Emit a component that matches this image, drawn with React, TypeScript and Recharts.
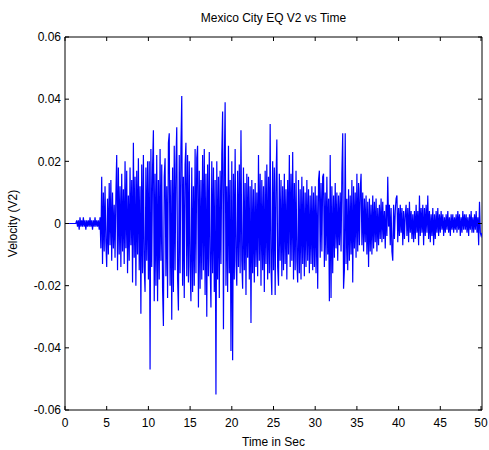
import { LineChart, Line, XAxis, YAxis, ReferenceLine } from "recharts";

// velocity samples in units of 0.001, one every 0.1 s
const sampleStep = 0.1;

const vel0to10 = [
  0, 0, 0, 0, 0, 0, 0, 0, 0, 0,
  0, 0, 0, 0, 1, -1, 1, -2, 2, -1,
  1, -1, 2, -1, 1, -2, 1, -1, 1, -1,
  2, -1, 1, -2, 1, -1, 2, -1, 1, -1,
  1, -2, 2, -8, 15, -13, 10, -9, 12, -6,
  -14, 8, -10, 13, -7, 14, -12, 10, -8, 6,
  -11, 9, 22, -15, 18, -10, 12, -14, 16, -9,
  11, -13, 20, -8, 17, -16, 9, -12, 18, -7,
  14, -19, 26, -11, 15, -20, 17, -10, 21, -15,
  12, -29, 19, -16, 22, -14, -22, 18, -12, 20,
];

const vel10to20 = [
  -18, 20, -47, 24, -14, 18, 30, -25, 16, -20,
  22, -25, 14, -18, 24, -12, 19, -21, -33, 15,
  21, -17, 12, -24, 26, 29, -20, 14, -31, 18,
  -22, 25, -15, 19, 31, -18, -28, 22, -16, 24,
  41, -20, 15, -24, 19, 26, -17, 22, -19, 20,
  -14, -25, 18, -22, 12, -20, 24, -16, 21, 25,
  -27, 17, -21, 14, -18, 22, -15, 24, -23, 16,
  -30, 19, -17, 23, -12, -27, 20, -16, 18, -22,
  14, -55, 20, -18, 15, -24, 17, -13, 22, 36,
  -34, 18, 39, -20, 12, -22, 25, -16, 14, -41,
];

const vel20to30 = [
  20, -44, 16, -18, 24, -12, -20, 17, -14, 19,
  -16, 30, -12, -21, 18, -15, 13, -23, 16, -11,
  15, -18, 12, -32, 14, -16, 11, -19, 13, -14,
  10, -17, 22, -12, 16, -20, 14, -15, 12, -22,
  17, -13, 19, -18, 15, -16, 32, -14, -23, 20,
  -15, 18, -23, 13, 27, -14, -20, 16, -12, 14,
  -17, 12, -15, 16, -13, 11, -18, 14, -10, 22,
  -14, 16, -12, 23, -18, 13, -15, 17, -12, -19,
  14, -16, 11, -18, 15, -13, 12, -17, 10, -14,
  14, -12, 11, -16, 9, -13, 12, -15, 10, -14,
];

const vel30to40 = [
  12, -16, 9, -21, 14, 17, -11, 13, -9, 15,
  16, -14, 10, -12, 15, -10, 8, -25, 22, -24,
  12, -16, 9, -11, 13, -8, 10, -12, 9, -7,
  10, -9, 16, 29, -21, -15, 29, -13, 8, -15,
  11, -12, 9, -10, 14, -19, 12, -8, 10, -11,
  16, -9, 13, -7, 11, 16, -7, 10, -9, 8,
  -6, 9, -10, 7, -14, 8, -9, 6, -10, 9,
  -8, 7, -6, 8, -9, 5, -7, 6, -5, 8,
  -6, 7, -5, 4, -8, 6, -4, 15, -1, 6,
  -7, 5, -9, -12, 6, -5, 4, 8, 9, -6,
];

const vel40to50 = [
  5, -4, 6, -3, 5, -7, 4, -5, 3, 6,
  -4, 5, -6, 7, -3, 4, -5, 3, -6, 4,
  -5, 6, -3, 4, -7, 9, -4, 5, -3, 6,
  -7, 5, -4, 6, -3, 9, -5, 4, -6, 3,
  -4, 5, -7, 3, -5, 4, -3, 5, -4, 3,
  -3, 4, -2, 3, -4, 2, -3, 3, -2, 4,
  -3, 2, -4, 3, -2, 3, -3, 2, -2, 3,
  -3, 4, -2, 3, -4, 2, -3, 4, -2, 3,
  -2, 3, -3, 2, -4, 3, -2, 4, -3, 2,
  -3, 3, -2, 4, -3, 2, -7, 7, -3, -4,
  -3,
];

const xTicks = [0, 5, 10, 15, 20, 25, 30, 35, 40, 45, 50];
const yTicks = [-0.06, -0.04, -0.02, 0, 0.02, 0.04, 0.06];

const velocity = [...vel0to10, ...vel10to20, ...vel20to30, ...vel30to40, ...vel40to50];
const data = velocity.map((v, i) => ({
  t: Math.round(i * sampleStep * 10) / 10,
  v: v / 1000,
}));

// plot box layout
const W = 489;
const H = 450;
const LEFT = 65;
const RIGHT = 482;
const TOP = 37;
const BOTTOM = 410;
const TICK = 4;

const fontFamily = "'Liberation Sans', Arial, sans-serif";
const font = { fontFamily, fontSize: 12, fill: "#000" };

// MATLAB style: ticks point inward, on both sides of the box
function XTick(props: any) {
  const { x, payload } = props;
  return (
    <g>
      <line x1={x} x2={x} y1={BOTTOM} y2={BOTTOM - TICK} stroke="#000" />
      <line x1={x} x2={x} y1={TOP} y2={TOP + TICK} stroke="#000" />
      <text x={x} y={BOTTOM + 8} dy="0.71em" textAnchor="middle" {...font}>
        {payload.value}
      </text>
    </g>
  );
}

function YTick(props: any) {
  const { y, payload } = props;
  return (
    <g>
      <line x1={LEFT} x2={LEFT + TICK} y1={y} y2={y} stroke="#000" />
      <line x1={RIGHT - TICK} x2={RIGHT} y1={y} y2={y} stroke="#000" />
      <text x={LEFT - 4} y={y} dy="0.355em" textAnchor="end" {...font}>
        {payload.value}
      </text>
    </g>
  );
}

export default function App() {
  return (
    <div style={{ position: "absolute", left: 0, top: 0, width: W, height: H, background: "#fff" }}>
      <div
        style={{
          position: "absolute",
          left: LEFT,
          width: RIGHT - LEFT,
          top: 11,
          textAlign: "center",
          fontFamily,
          fontSize: 12,
          color: "#000",
        }}
      >
        Mexico City EQ V2 vs Time
      </div>
      <LineChart
        width={W}
        height={H}
        data={data}
        margin={{ top: TOP, right: W - RIGHT, bottom: 0, left: 0 }}
      >
        <XAxis
          dataKey="t"
          type="number"
          domain={[0, 50]}
          ticks={xTicks}
          allowDataOverflow
          height={H - BOTTOM}
          tickLine={false}
          stroke="#000"
          tick={<XTick />}
          label={{ value: "Time in Sec", position: "insideBottom", offset: 4, style: font }}
        />
        <YAxis
          type="number"
          domain={[-0.06, 0.06]}
          ticks={yTicks}
          allowDataOverflow
          width={LEFT}
          tickLine={false}
          stroke="#000"
          tick={<YTick />}
          label={{ value: "Velocity (V2)", angle: -90, position: "insideLeft", offset: 13, style: { ...font, textAnchor: "middle" } }}
        />
        <ReferenceLine y={0.06} stroke="#000" ifOverflow="visible" />
        <ReferenceLine x={50} stroke="#000" ifOverflow="visible" />
        <Line
          type="linear"
          dataKey="v"
          stroke="#0000ff"
          strokeWidth={1.2}
          dot={false}
          isAnimationActive={false}
        />
      </LineChart>
    </div>
  );
}
